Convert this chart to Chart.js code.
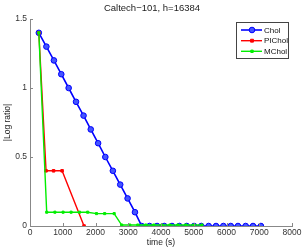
<!DOCTYPE html>
<html>
<head>
<meta charset="utf-8">
<script src="https://cdn.jsdelivr.net/npm/chart.js@4"></script>
<style>
html,body{margin:0;padding:0;background:#fff;}
#wrap{width:305px;height:250px;}
</style>
</head>
<body>
<div id="wrap"><canvas id="c" width="305" height="250"></canvas></div>
<script>
const chartTitle = "Caltech\u2212101, h=16384";
const xTitle = "time (s)";
const yTitle = "|Log ratio|";
const seriesNames = ["Chol", "PIChol", "MChol"];

const cholTime = [270,500,730,955,1180,1405,1635,1855,2080,2300,2530,2755,2980,3205,3410,3650,3880,4100,4335,4560,4785,5010,5230,5455,5680,5905,6130,6350,6585,6810,7050];
const cholValues = [1.4,1.3,1.2,1.1,1.0,0.9,0.8,0.7,0.6,0.5,0.4,0.3,0.2,0.1,0,0,0,0,0,0,0,0,0,0,0,0,0,0,0,0,0];

const picholTime = [270,490,720,980,1650];
const picholValues = [1.4,0.4,0.4,0.4,0];

const mcholTime = [270,510,760,1010,1255,1510,1760,2030,2280,2570,2800,3045,3290,3535,3780,4025,4270,4515,4760,5005,5250];
const mcholValues = [1.4,0.1,0.1,0.1,0.1,0.1,0.1,0.09,0.09,0.09,0.007,0.007,0.007,0.007,0.007,0.007,0.007,0.007,0.007,0.007,0.007];

const xTicks = [0,1000,2000,3000,4000,5000,6000,7000,8000];
const yTicks = [0,0.5,1,1.5];

function pts(t, v){ return t.map((x,i)=>({x:x, y:v[i]})); }

const FONT = "'Liberation Sans', Arial, Helvetica, sans-serif";

const inwardTicks = {
  id: 'inwardTicks',
  afterDraw(chart){
    const ctx = chart.ctx, xs = chart.scales.x, ys = chart.scales.y;
    ctx.save();
    ctx.strokeStyle = '#888';
    ctx.lineWidth = 1;
    ctx.beginPath();
    xTicks.forEach(v=>{
      const px = Math.round(xs.getPixelForValue(v)) + 0.5;
      ctx.moveTo(px, ys.bottom); ctx.lineTo(px, ys.bottom - 3);
    });
    yTicks.forEach(v=>{
      const py = Math.round(ys.getPixelForValue(v)) + 0.5;
      ctx.moveTo(xs.left, py); ctx.lineTo(xs.left + 3, py);
    });
    ctx.stroke();
    ctx.fillStyle = '#222';
    ctx.font = "9.5px " + FONT;
    ctx.textAlign = 'center';
    ctx.textBaseline = 'middle';
    ctx.fillText(chartTitle, 152, 8.5);
    ctx.restore();
  }
};

const boxLegend = {
  id: 'boxLegend',
  afterDraw(chart){
    const ctx = chart.ctx;
    const x0 = 236.5, y0 = 22.5, w = 52, h = 36;
    ctx.save();
    ctx.fillStyle = '#fff';
    ctx.fillRect(x0, y0, w, h);
    ctx.strokeStyle = '#444';
    ctx.lineWidth = 1;
    ctx.strokeRect(x0, y0, w, h);
    const rows = [30, 40.7, 51.3];
    chart.data.datasets.forEach((ds, i)=>{
      const y = rows[i];
      ctx.strokeStyle = ds.borderColor;
      ctx.lineWidth = ds.borderWidth;
      ctx.beginPath(); ctx.moveTo(241, y); ctx.lineTo(262, y); ctx.stroke();
      ctx.fillStyle = ds.pointBackgroundColor;
      ctx.strokeStyle = ds.borderColor;
      ctx.lineWidth = ds.pointBorderWidth;
      ctx.beginPath();
      if (ds.pointStyle === 'circle') {
        ctx.arc(252, y, ds.pointRadius, 0, Math.PI*2);
      } else {
        const r = ds.pointRadius * 0.8;
        ctx.rect(252 - r, y - r, r*2, r*2);
      }
      ctx.fill(); ctx.stroke();
      ctx.fillStyle = '#111';
      ctx.font = "8px " + FONT;
      ctx.textBaseline = 'middle';
      ctx.textAlign = 'left';
      ctx.fillText(seriesNames[i], 264, y + 0.5);
    });
    ctx.restore();
  }
};

new Chart(document.getElementById('c'), {
  type: 'line',
  data: {
    datasets: [
      { label: seriesNames[0], data: pts(cholTime, cholValues), borderColor: '#0000ff', backgroundColor: '#0000ff',
        borderWidth: 1.6, pointStyle: 'circle', pointRadius: 2.8, pointBorderWidth: 1, pointBackgroundColor: '#4455ff', order: 3 },
      { label: seriesNames[1], data: pts(picholTime, picholValues), borderColor: '#ff0000', backgroundColor: '#ff0000',
        borderWidth: 1.4, pointStyle: 'rect', pointRadius: 1.8, pointBorderWidth: 1, pointBackgroundColor: '#ff0000', order: 2 },
      { label: seriesNames[2], data: pts(mcholTime, mcholValues), borderColor: '#00ee00', backgroundColor: '#00ee00',
        borderWidth: 1.4, pointStyle: 'rect', pointRadius: 1.5, pointBorderWidth: 1, pointBackgroundColor: '#00ee00', order: 1 }
    ]
  },
  options: {
    responsive: false,
    animation: false,
    events: [],
    layout: { padding: { left: 0, right: 13, top: 19, bottom: 0 } },
    plugins: {
      legend: { display: false },
      tooltip: { enabled: false },
      title: { display: false }
    },
    scales: {
      x: {
        type: 'linear', min: 0, max: 8000,
        afterBuildTicks: s => { s.ticks = xTicks.map(v=>({value:v})); },
        afterFit: s => { s.height = 24; },
        grid: { display: true, drawOnChartArea: false, drawTicks: false },
        border: { display: true, color: '#888', width: 1 },
        ticks: { color: '#333', font: { family: FONT, size: 8.5 }, padding: 2, maxRotation: 0, autoSkip: false, callback: v => String(v) },
        title: { display: true, text: xTitle, color: '#222', font: { family: FONT, size: 8.5 }, padding: { top: 0, bottom: 2 } }
      },
      y: {
        type: 'linear', min: 0, max: 1.5,
        afterBuildTicks: s => { s.ticks = yTicks.map(v=>({value:v})); },
        afterFit: s => { s.width = 30; },
        grid: { display: true, drawOnChartArea: false, drawTicks: false },
        border: { display: true, color: '#888', width: 1 },
        ticks: { color: '#333', font: { family: FONT, size: 8.5 }, padding: 3, callback: v => String(v) },
        title: { display: true, text: yTitle, color: '#222', font: { family: FONT, size: 8.5 }, padding: { top: 3, bottom: 0 } }
      }
    }
  },
  plugins: [inwardTicks, boxLegend]
});
</script>
</body>
</html>
